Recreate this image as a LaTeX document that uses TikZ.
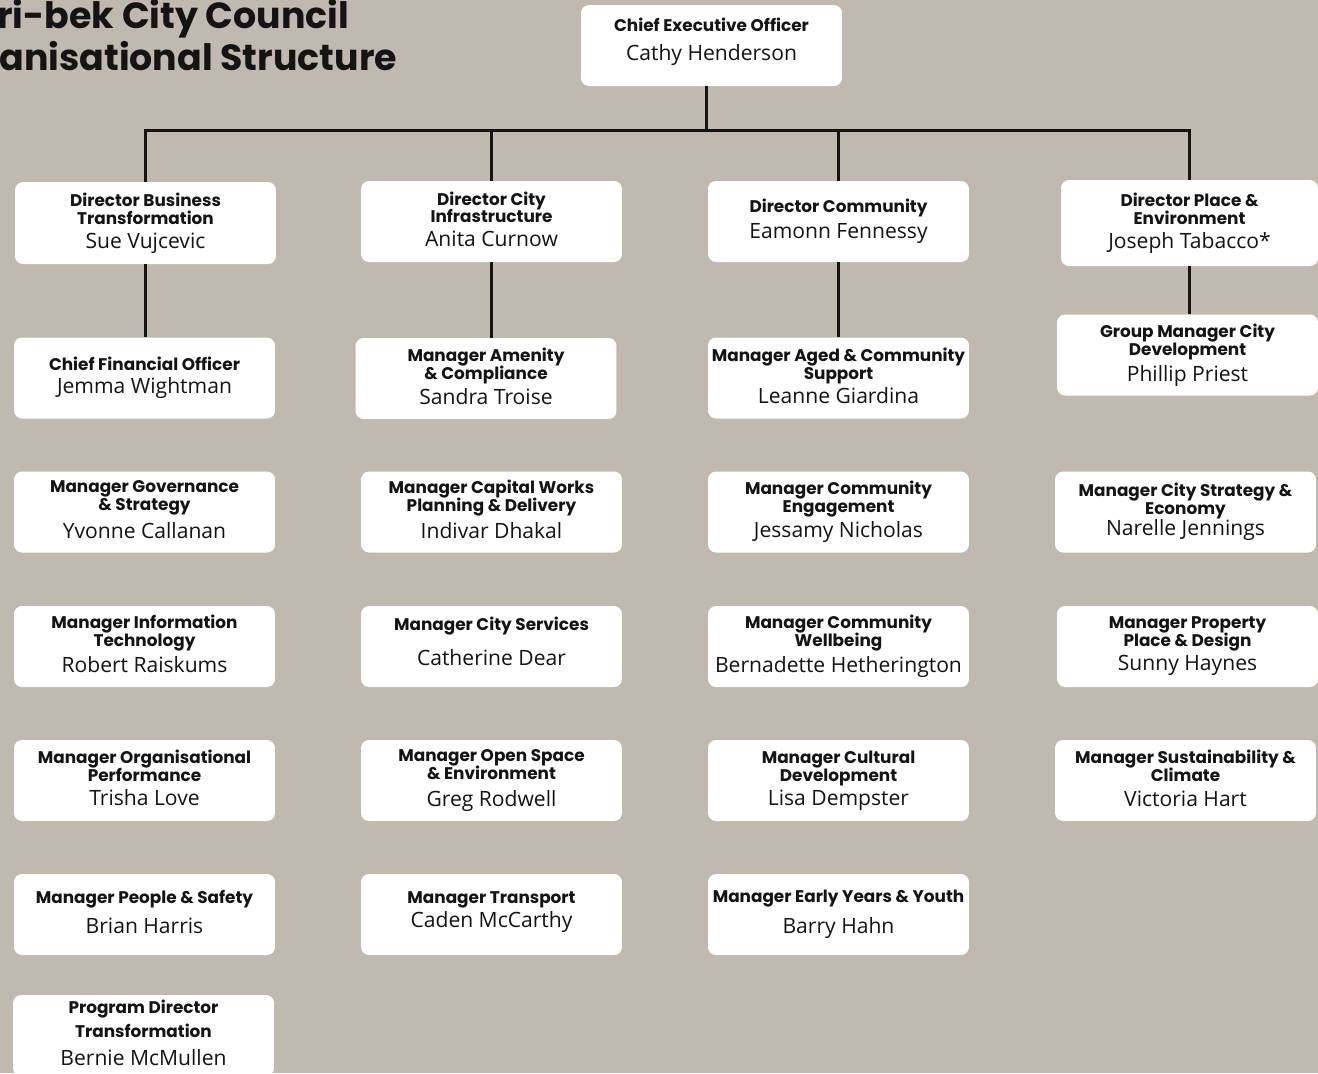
\documentclass[tikz,border=0pt]{standalone}
\usepackage{fontspec}
\setmainfont{Open Sans}
\newfontfamily\rolefont{Poppins}
\definecolor{bgtaupe}{HTML}{C0B9B0}
\definecolor{ink}{HTML}{141414}
\newcommand\rolestyle{\rolefont\bfseries\fontsize{9.6}{10.2}\selectfont\setlength{\lineskiplimit}{-20pt}}
\newcommand\who[1]{{\normalfont\fontsize{12}{14}\selectfont #1}}
\begin{document}
\begin{tikzpicture}[x=0.02cm, y=-0.02cm,
    box/.style={fill=white, rounded corners=0.16cm, minimum width=5.22cm, minimum height=1.62cm,
        inner sep=0pt, align=center, text=ink, text depth=3pt, font=\rolestyle},
    link/.style={draw=ink, line width=1.7pt},
    heading/.style={anchor=base west, text=ink, inner sep=0pt, font=\rolefont\bfseries\fontsize{20.7}{24}\selectfont}]
        \fill[bgtaupe] (0,0) rectangle (1318,1073);
        \useasboundingbox (0,0) rectangle (1318,1073);
        \node[heading] (title1) at (-3,28) {ri-bek City Council};
        \node[heading] (title2) at (-1,70) {anisational Structure};
        \node[box, text depth=7pt] (ceo) at (711.5,45.5) {Chief Executive Officer\\[6.5pt]\who{Cathy Henderson}};
        % first column
        \node[box, minimum height=1.64cm] (dbt) at (145.5,223) {Director Business\\Transformation\\[3.5pt]\who{Sue Vujcevic}};
        \node[box] (cfo) at (144.5,378) {Chief Financial Officer\\[3pt]\who{Jemma Wightman}};
        \node[box] (mgs) at (144.5,512) {Manager Governance\\\& Strategy\\[5.5pt]\who{Yvonne Callanan}};
        \node[box] (mit) at (144.5,646.5) {Manager Information\\Technology\\[5pt]\who{Robert Raiskums}};
        \node[box] (mop) at (144.5,780.5) {Manager Organisational\\Performance\\[3.5pt]\who{Trisha Love}};
        \node[box] (mps) at (144.5,914.5) {Manager People \& Safety\\[6.5pt]\who{Brian Harris}};
        \node[box] (pdt) at (143.5,1035.5) {Program Director\\[3.5pt]Transformation\\[5.5pt]\who{Bernie McMullen}};
        % second column
        \node[box] (dci) at (491.5,221.5) {Director City\\Infrastructure\\[3pt]\who{Anita Curnow}};
        \node[box] (mac) at (486,378.5) {Manager Amenity\\\& Compliance\\[4pt]\who{Sandra Troise}};
        \node[box] (mcw) at (491.5,512) {Manager Capital Works\\Planning \& Delivery\\[5pt]\who{Indivar Dhakal}};
        \node[box, text depth=6pt] (mcs) at (491.5,646.5) {Manager City Services\\[9.5pt]\who{Catherine Dear}};
        \node[box] (mos) at (491.5,780.5) {Manager Open Space\\\& Environment\\[5pt]\who{Greg Rodwell}};
        \node[box, text depth=6pt] (mtr) at (491.5,914.5) {Manager Transport\\[3.5pt]\who{Caden McCarthy}};
        % third column
        \node[box] (dcom) at (838.5,221.5) {Director Community\\[5pt]\who{Eamonn Fennessy}};
        \node[box] (macs) at (838.5,378) {Manager Aged \& Community\\Support\\[3.5pt]\who{Leanne Giardina}};
        \node[box] (mce) at (838.5,512) {Manager Community\\Engagement\\[4pt]\who{Jessamy Nicholas}};
        \node[box] (mcwb) at (838.5,646.5) {Manager Community\\Wellbeing\\[5pt]\who{Bernadette Hetherington}};
        \node[box] (mcd) at (838.5,780.5) {Manager Cultural\\Development\\[3.5pt]\who{Lisa Dempster}};
        \node[box] (mey) at (838.5,914.5) {Manager Early Years \& Youth\\[7.5pt]\who{Barry Hahn}};
        % fourth column
        \node[box, minimum width=5.14cm, minimum height=1.72cm] (dpe) at (1189.5,223) {Director Place \&\\Environment\\[3.5pt]\who{Joseph Tabacco*}};
        \node[box] (gmcd) at (1187.5,355) {Group Manager City\\Development\\[4.5pt]\who{Phillip Priest}};
        \node[box] (mcse) at (1185.5,512) {Manager City Strategy \&\\Economy\\[2pt]\who{Narelle Jennings}};
        \node[box] (mpp) at (1187.5,646.5) {Manager Property\\Place \& Design\\[3.5pt]\who{Sunny Haynes}};
        \node[box] (msc) at (1185.5,780.5) {Manager Sustainability \&\\Climate\\[4pt]\who{Victoria Hart}};
        % connectors
        \coordinate (bus) at (706,130);
        \draw[link] (bus |- ceo.south) -- (bus);
        \draw[link] (dbt.north) |- (bus) -| (dpe.north);
        \draw[link] (dci.north) -- (dci.north |- bus);
        \draw[link] (dcom.north) -- (dcom.north |- bus);
        \draw[link] (dbt.south) -- (dbt.south |- cfo.north);
        \draw[link] (dci.south) -- (dci.south |- mac.north);
        \draw[link] (dcom.south) -- (dcom.south |- macs.north);
        \draw[link] (dpe.south) -- (dpe.south |- gmcd.north);
    \end{tikzpicture}
\end{document}
